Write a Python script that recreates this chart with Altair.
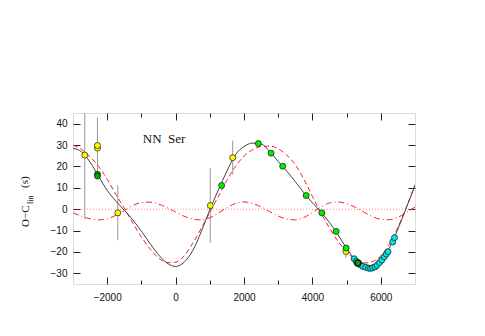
import altair as alt
import pandas as pd

# ---- data ----
grid_E = [-3000, -2750, -2500, -2250, -2000, -1750, -1500, -1250, -1000, -750,
          -500, -250, 0, 250, 500, 750, 1000, 1250, 1500, 1750,
          2000, 2250, 2500, 2750, 3000, 3250, 3500, 3750, 4000, 4250,
          4500, 4750, 5000, 5250, 5500, 5750, 6000, 6250, 6500, 6750, 7000]

model_total = [28.5, 26.8, 22.0, 15.3, 8.8, 3.8, -0.5, -5.0, -10.3, -16.0,
               -21.3, -25.2, -26.8, -24.8, -19.4, -10.5, -0.3, 9.0, 17.8, 25.5,
               29.3, 30.9, 30.5, 27.0, 22.3, 17.8, 12.9, 7.7, 3.0, -1.3,
               -6.2, -12.0, -18.3, -23.5, -26.6, -27.6, -24.5, -18.2, -9.3, 0.8, 11.0]

model_outer = [30.0, 28.0, 24.5, 20.0, 14.0, 7.0, 0.5, -6.5, -13.0, -18.5,
               -22.8, -25.0, -24.8, -21.8, -16.0, -9.0, -1.5, 6.0, 13.5, 20.0,
               24.8, 27.8, 29.3, 29.5, 28.3, 25.3, 20.8, 14.0, 6.0, -1.8,
               -8.8, -15.0, -20.0, -23.5, -25.2, -24.6, -21.8, -16.5, -8.5, 1.0, 11.5]

model_inner = [-1.7, -3.3, -4.5, -5.0, -4.5, -2.9, -0.6, 1.7, 3.1, 3.3,
               2.4, 0.7, -1.3, -3.3, -4.6, -5.0, -4.0, -1.8, 0.7, 2.7,
               3.4, 2.7, 1.1, -1.1, -3.2, -4.6, -5.0, -3.9, -1.6, 1.0,
               2.9, 3.4, 2.6, 0.9, -1.3, -3.4, -4.7, -4.9, -3.8, -1.5, 1.0]

yellow_E = [-2656, -2284, -2284, -1690, 1014, 1669, 4978]
yellow_oc = [25.3, 28.6, 29.8, -1.7, 1.7, 24.1, -19.8]
yellow_err = [30.0, 13.0, 13.0, 12.8, 17.5, 8.0, 3.0]

green_E = [1347, 2419, 2791, 3133, 3816, 4275, 4694, 4987]
green_oc = [11.1, 30.7, 26.2, 20.1, 6.4, -1.7, -10.4, -18.2]

dkgreen_E = [-2284, -2284]
dkgreen_oc = [16.3, 15.5]

dkgreen2_E = [5329]
dkgreen2_oc = [-25.2]

cyan_E = [5221, 5280, 5397, 5475, 5560, 5640, 5700, 5760, 5830, 5890,
          5960, 6030, 6100, 6160, 6210, 6350, 6400]
cyan_oc = [-23.2, -24.4, -26.0, -26.8, -27.2, -27.6, -27.7, -27.4, -27.0, -26.2,
           -25.0, -23.8, -22.3, -21.0, -19.9, -15.3, -13.3]

x_major = [-2000, 0, 2000, 4000, 6000]
x_minor = [-1000, 1000, 3000, 5000]
y_major = [-30, -20, -10, 0, 10, 20, 30, 40]

# ---- tables ----
curves = pd.DataFrame({"E": grid_E, "total": model_total,
                       "outer": model_outer, "inner": model_inner})
yel = pd.DataFrame({"E": yellow_E, "oc": yellow_oc, "err": yellow_err})
yel["lo"] = yel["oc"] - yel["err"]
yel["hi"] = yel["oc"] + yel["err"]
grn = pd.DataFrame({"E": green_E, "oc": green_oc})
dkg = pd.DataFrame({"E": dkgreen_E, "oc": dkgreen_oc})
dkg2 = pd.DataFrame({"E": dkgreen2_E, "oc": dkgreen2_oc})
cyn = pd.DataFrame({"E": cyan_E, "oc": cyan_oc})
one = pd.DataFrame({"k": [0]})

xs = alt.Scale(domain=[-3000, 7000], nice=False, zero=False)
ys = alt.Scale(domain=[-35, 45], nice=False, zero=False)

LF = "Liberation Sans"
SF = "Liberation Serif"


def xax(orient, values, size, labels):
    return alt.Axis(orient=orient, values=values, tickSize=size, offset=-size,
                    domain=False, labels=labels, title=None, grid=False, format="d",
                    tickColor="#222", tickWidth=1, labelFont=LF, labelFontSize=10,
                    labelColor="#111", labelPadding=8)


def yax(orient, values, size, labels):
    return alt.Axis(orient=orient, values=values, tickSize=size, offset=-size,
                    domain=False, labels=labels, title=None, grid=False, format="d",
                    tickColor="#222", tickWidth=1, labelFont=LF, labelFontSize=10,
                    labelColor="#111", labelPadding=6)


base = alt.Chart(curves)
single = alt.Chart(one)

ax1 = base.mark_line(opacity=0).encode(
    x=alt.X("E:Q", scale=xs, axis=xax("bottom", x_major, 7, True)),
    y=alt.Y("total:Q", scale=ys, axis=yax("left", y_major, 7, True)))
ax2 = base.mark_line(opacity=0).encode(
    x=alt.X("E:Q", scale=xs, axis=xax("top", x_major, 7, False)),
    y=alt.Y("total:Q", scale=ys, axis=yax("right", y_major, 7, False)))
ax3 = base.mark_line(opacity=0).encode(
    x=alt.X("E:Q", scale=xs, axis=xax("bottom", x_minor, 4, False)),
    y=alt.Y("total:Q", scale=ys, axis=None))
ax4 = base.mark_line(opacity=0).encode(
    x=alt.X("E:Q", scale=xs, axis=xax("top", x_minor, 4, False)),
    y=alt.Y("total:Q", scale=ys, axis=None))

zero = single.mark_rule(color="#ff6a6a", strokeDash=[1, 2], strokeWidth=0.8).encode(
    y=alt.Y(datum=0, scale=ys, axis=None))

errs = alt.Chart(yel).mark_rule(color="#999999", strokeWidth=1, clip=True).encode(
    x=alt.X("E:Q", scale=xs, axis=None),
    y=alt.Y("lo:Q", scale=ys, axis=None), y2="hi:Q")

line_inner = base.mark_line(color="#ff2020", strokeWidth=1, strokeDash=[6, 3, 1, 3],
                            interpolate="monotone", clip=True).encode(
    x=alt.X("E:Q", scale=xs, axis=None), y=alt.Y("inner:Q", scale=ys, axis=None))
line_outer = base.mark_line(color="#ff2020", strokeWidth=1, strokeDash=[5, 3],
                            interpolate="monotone", clip=True).encode(
    x=alt.X("E:Q", scale=xs, axis=None), y=alt.Y("outer:Q", scale=ys, axis=None))
line_total = base.mark_line(color="#444444", strokeWidth=1,
                            interpolate="monotone", clip=True).encode(
    x=alt.X("E:Q", scale=xs, axis=None), y=alt.Y("total:Q", scale=ys, axis=None))


def pts(df, fill, sw=0.7):
    return alt.Chart(df).mark_circle(size=36, color=fill, opacity=1, stroke="#111",
                                     strokeWidth=sw).encode(
        x=alt.X("E:Q", scale=xs, axis=None), y=alt.Y("oc:Q", scale=ys, axis=None))


p_cyan = pts(cyn, "#00e8e8")
p_yel = pts(yel, "#ffff00")
p_grn = pts(grn, "#00ee00")
p_dkg = pts(dkg, "#00a800")
p_dkg2 = pts(dkg2, "#00b000", 1.6)

label = single.mark_text(text="NN\u2002Ser", font=SF, fontSize=13, align="left",
                         baseline="middle", color="#111").encode(
    x=alt.X(datum=-960, scale=xs, axis=None), y=alt.Y(datum=33, scale=ys, axis=None))

t1 = single.mark_text(text="O\u2212C", font=SF, fontSize=11, angle=270, align="left",
                      baseline="alphabetic", color="#111").encode(
    x=alt.value(-44), y=alt.value(114))
t2 = single.mark_text(text="lin", font=SF, fontSize=8, angle=270, align="left",
                      baseline="alphabetic", color="#111").encode(
    x=alt.value(-40), y=alt.value(91))
t3 = single.mark_text(text="(s)", font=SF, fontSize=11, angle=270, align="left",
                      baseline="alphabetic", color="#111").encode(
    x=alt.value(-45), y=alt.value(75))

chart = alt.layer(
    ax1, ax2, ax3, ax4, zero, errs, line_inner, line_outer, line_total,
    p_cyan, p_yel, p_grn, p_dkg, p_dkg2, label, t1, t2, t3
).resolve_axis(x="independent", y="independent").properties(
    width=342, height=171,
    autosize=alt.AutoSizeParams(type="none"),
    padding={"left": 65, "top": 105, "right": 62, "bottom": 44},
).configure_view(stroke="#222", strokeWidth=1).configure(background="white")

chart.save("out.html", embed_options={"renderer": "svg", "actions": False})
